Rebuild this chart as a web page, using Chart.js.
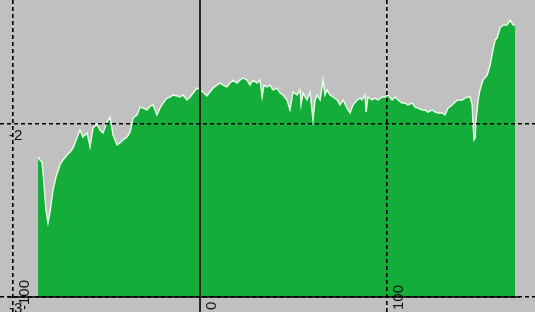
<!DOCTYPE html>
<html>
<head>
<meta charset="utf-8">
<script src="https://cdn.jsdelivr.net/npm/chart.js@4/dist/chart.umd.min.js"></script>
<style>
  body { margin: 0; background: #c0c0c0; }
  canvas { display: block; background: #c0c0c0; }
</style>
</head>
<body>
<canvas id="spectrum" width="535" height="312"></canvas>
<script>
// frequency-like positions and levels
const freqs = [
  -86.6, -85.6, -84.5, -83.4, -82.4, -81.3, -80.2, -78.6, -77.0, -74.9,
  -73.3, -71.1, -69.5, -67.9, -65.8, -64.2, -62.6, -60.4, -58.8, -57.2,
  -55.1, -53.5, -51.9, -49.7, -48.1, -46.5, -44.4, -42.8, -41.2, -39.0,
  -37.4, -35.8, -33.7, -32.1, -30.5, -28.3, -26.7, -25.1, -23.0, -21.4,
  -19.8, -17.6, -16.0, -14.4, -12.3, -10.7, -9.1, -7.0, -5.3, -3.7,
  -1.6, 0.0, 1.6, 3.7, 5.3, 7.0, 9.1, 10.7, 12.3, 14.4,
  16.0, 17.6, 19.8, 21.4, 23.0, 25.1, 26.7, 28.3, 30.5, 32.1,
  33.2, 34.2, 35.8, 37.4, 39.0, 41.2, 42.8, 44.4, 46.5, 48.1,
  49.7, 51.9, 53.5, 54.0, 55.1, 57.2, 58.8, 60.4, 61.5, 62.6,
  64.2, 65.8, 66.8, 67.9, 69.5, 71.1, 73.3, 74.9, 76.5, 78.6,
  80.2, 81.8, 84.0, 85.6, 86.6, 88.2, 88.8, 89.8, 92.0, 93.6,
  95.2, 97.3, 98.9, 100.5, 102.7, 104.3, 105.9, 108.0, 109.6, 111.2,
  113.4, 115.0, 116.6, 118.7, 120.3, 121.9, 124.1, 125.7, 127.3, 129.4,
  131.0, 132.6, 134.8, 136.4, 138.0, 140.1, 141.7, 143.3, 144.4, 145.5,
  146.0, 146.5, 147.1, 147.6, 148.7, 149.7, 151.3, 153.5, 155.1, 156.1,
  157.8, 158.8, 160.4, 162.0, 164.2, 165.8, 167.4, 168.5
];
const levels = [
  -2.191, -2.208, -2.220, -2.353, -2.497, -2.572, -2.509, -2.382, -2.306, -2.237,
  -2.208, -2.179, -2.162, -2.139, -2.081, -2.035, -2.075, -2.052, -2.133, -2.023,
  -2.000, -2.035, -2.052, -1.988, -1.960, -2.064, -2.121, -2.110, -2.092, -2.075,
  -2.046, -1.965, -1.948, -1.902, -1.908, -1.919, -1.896, -1.890, -1.948, -1.908,
  -1.879, -1.850, -1.844, -1.832, -1.838, -1.844, -1.832, -1.861, -1.844, -1.821,
  -1.792, -1.803, -1.815, -1.838, -1.815, -1.792, -1.775, -1.763, -1.775, -1.786,
  -1.763, -1.746, -1.763, -1.746, -1.734, -1.746, -1.775, -1.746, -1.763, -1.746,
  -1.844, -1.775, -1.786, -1.775, -1.803, -1.792, -1.821, -1.832, -1.861, -1.919,
  -1.815, -1.832, -1.803, -1.890, -1.821, -1.861, -1.815, -1.977, -1.861, -1.832,
  -1.861, -1.746, -1.832, -1.803, -1.832, -1.844, -1.861, -1.890, -1.861, -1.908,
  -1.936, -1.890, -1.861, -1.850, -1.861, -1.832, -1.931, -1.844, -1.861, -1.850,
  -1.861, -1.844, -1.844, -1.832, -1.861, -1.844, -1.861, -1.879, -1.879, -1.890,
  -1.879, -1.902, -1.908, -1.919, -1.919, -1.931, -1.919, -1.931, -1.936, -1.936,
  -1.948, -1.908, -1.890, -1.873, -1.861, -1.861, -1.850, -1.844, -1.844, -1.890,
  -2.006, -2.092, -2.081, -1.977, -1.861, -1.803, -1.746, -1.717, -1.659, -1.601,
  -1.514, -1.503, -1.445, -1.428, -1.428, -1.399, -1.428, -1.428
];
const xTicks = [-100, 0, 100];
const yTicks = [-3, -2];
const floorLevel = -3;
const floorSpan = [-102.7, 171];

const labelFont = '15px "Liberation Sans", Arial, sans-serif';

// tick labels sit inside the plot, like the original program draws them
const insideLabels = {
  id: 'insideLabels',
  afterDraw(chart) {
    const c = chart.ctx;
    const xs = chart.scales.x, ys = chart.scales.y;
    c.save();
    c.font = labelFont;
    c.fillStyle = '#111';
    c.textAlign = 'left';
    c.textBaseline = 'top';
    const left = xs.getPixelForValue(xTicks[0]);
    yTicks.forEach(v => {
      c.fillText(String(v), left - 4, ys.getPixelForValue(v) + 4);
    });
    xTicks.forEach(v => {
      c.save();
      c.translate(xs.getPixelForValue(v) + 4, 310);
      c.rotate(-Math.PI / 2);
      c.fillText(String(v), 0, 0);
      c.restore();
    });
    c.restore();
  }
};

new Chart(document.getElementById('spectrum'), {
  type: 'line',
  data: {
    datasets: [{
      data: floorSpan.map(x => ({ x: x, y: floorLevel })),
      borderColor: '#000',
      borderWidth: 1.5,
      pointRadius: 0,
      fill: false,
      order: 0
    }, {
      data: freqs.map((x, i) => ({ x: x, y: levels[i] })),
      borderColor: '#e6ffe6',
      borderWidth: 1.4,
      backgroundColor: '#14ad3a',
      pointRadius: 0,
      tension: 0,
      fill: { value: floorLevel },
      order: 1
    }]
  },
  options: {
    responsive: false,
    animation: false,
    layout: { padding: 0, autoPadding: false },
    plugins: { legend: { display: false }, tooltip: { enabled: false } },
    scales: {
      x: {
        type: 'linear',
        min: -106.95,
        max: 179.1,
        afterBuildTicks: s => { s.ticks = xTicks.map(v => ({ value: v })); },
        afterFit: s => { s.height = 0; },
        ticks: { display: false },
        border: {
          display: false,
          dash: ctx => (ctx.tick && ctx.tick.value === 0 ? [] : [4, 3])
        },
        grid: {
          z: 1,
          drawTicks: false,
          color: ctx => (ctx.tick && ctx.tick.value === 0 ? '#262626' : '#000'),
          lineWidth: ctx => (ctx.tick && ctx.tick.value === 0 ? 2 : 1.6)
        }
      },
      y: {
        type: 'linear',
        min: -3.087,
        max: -1.283,
        afterBuildTicks: s => { s.ticks = yTicks.map(v => ({ value: v })); },
        afterFit: s => { s.width = 0; },
        ticks: { display: false },
        border: { display: false, dash: [4, 3] },
        grid: { z: 1, drawTicks: false, color: '#000', lineWidth: 1.6 }
      }
    }
  },
  plugins: [insideLabels]
});
</script>
</body>
</html>
